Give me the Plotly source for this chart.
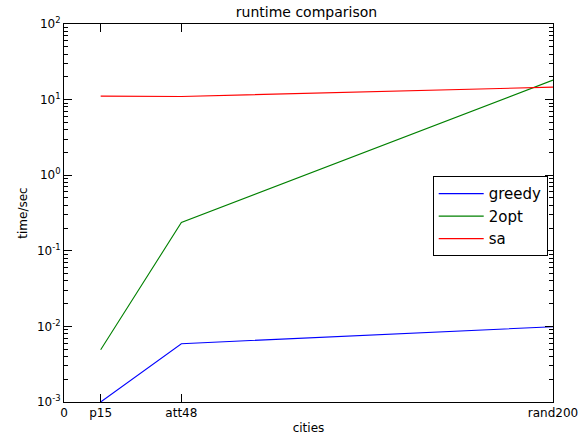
import plotly.graph_objects as go

cities = ["p15", "att48", "rand200"]
city_x = [15, 48, 200]
greedy = [0.001, 0.0059, 0.0099]
two_opt = [0.0049, 0.237, 18.1]
sa = [11.1, 11.0, 14.6]

xtick_vals = [0] + city_x
xtick_text = ["0"] + cities
ytick_vals = [1e-3, 1e-2, 1e-1, 1e0, 1e1, 1e2]
ytick_text = ["10<sup>-3</sup>", "10<sup>-2</sup>", "10<sup>-1</sup>", "10<sup>0</sup>", "10<sup>1</sup>", "10<sup>2</sup>"]
minor_vals = [m * d for d in [1e-3, 1e-2, 1e-1, 1e0, 1e1] for m in range(2, 10)]

fig = go.Figure()
for name, vals, col, ax in [("greedy", greedy, "#0000ff", "y"), ("2opt", two_opt, "#008000", "y"),
                            ("sa", sa, "#ff0000", "y2")]:
    fig.add_trace(go.Scatter(x=city_x, y=vals, mode="lines", name=name, yaxis=ax,
                             line=dict(color=col, width=1.1)))

fig.update_layout(
    template="none",
    width=586, height=440,
    margin=dict(l=64, r=33, t=24, b=38, autoexpand=False),
    plot_bgcolor="white", paper_bgcolor="white",
    font=dict(family="DejaVu Sans", size=12, color="black"),
    title=dict(text="runtime comparison", x=0.523, xanchor="center", y=0.972, yanchor="middle",
               font=dict(size=14)),
    legend=dict(x=0.754, y=0.597, xanchor="left", yanchor="top",
                bordercolor="black", borderwidth=1, bgcolor="white",
                font=dict(size=15), tracegroupgap=0, itemwidth=45),
    showlegend=True,
    yaxis2=dict(overlaying="y", side="left", type="log", range=[-3, 2], tickmode="array",
                tickvals=minor_vals, showticklabels=False, automargin=False,
                showgrid=False, zeroline=False, showline=False,
                mirror="ticks", ticks="inside", ticklen=4, tickwidth=1.3, tickcolor="black"),
)
fig.update_xaxes(range=[0, 200], tickmode="array", tickvals=xtick_vals, ticktext=xtick_text, automargin=False,
                 showgrid=False, zeroline=False, showline=True, linecolor="black", linewidth=1,
                 mirror="ticks", ticks="inside", ticklen=8, tickwidth=1.3, tickcolor="black",
                 title=dict(text="cities", standoff=4, font=dict(size=12)))
fig.update_layout(yaxis=dict(type="log", range=[-3, 2], tickmode="array", tickvals=ytick_vals, ticktext=ytick_text,
                             automargin=False, showgrid=False, zeroline=False, showline=True,
                             linecolor="black", linewidth=1,
                             mirror="ticks", ticks="inside", ticklen=8, tickwidth=1.3, tickcolor="black",
                             title=dict(text="time/sec", standoff=6, font=dict(size=12))))

fig.write_html("out.html", config={"displayModeBar": False},
               post_script="document.body.style.margin='0';document.body.style.padding='0';")
